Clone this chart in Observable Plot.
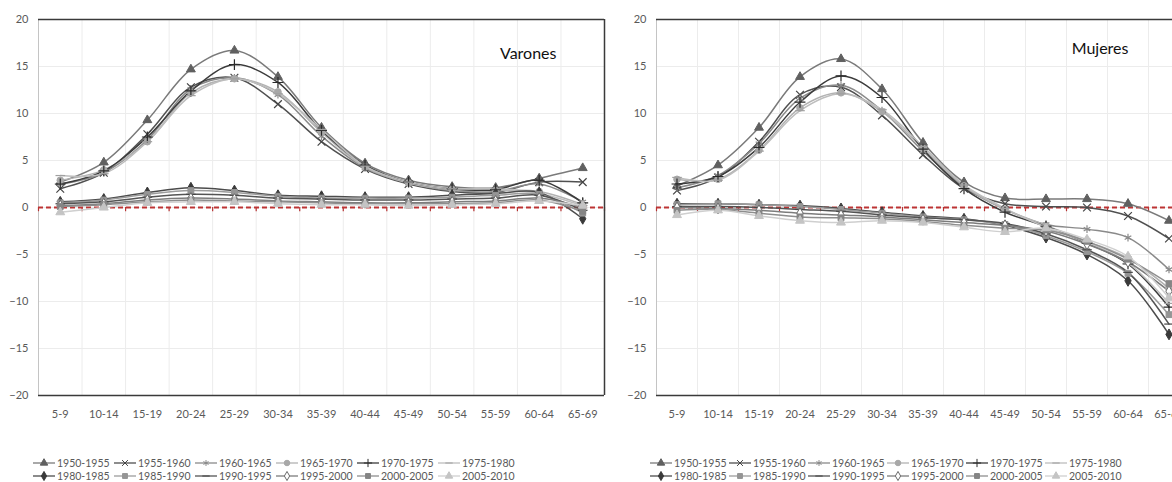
<!DOCTYPE html>
<html>
<head>
<meta charset="utf-8">
<script src="https://cdn.jsdelivr.net/npm/d3@7"></script>
<script src="https://cdn.jsdelivr.net/npm/@observablehq/plot@0.6"></script>
<style>
  html, body { margin: 0; padding: 0; background: #fff; overflow: hidden; }
  #wrap { position: relative; width: 1172px; height: 482px; overflow: hidden; font-family: Lato, "Open Sans", sans-serif; }
  .panel { position: absolute; top: 0; }
  .legend { position: absolute; font-size: 10.5px; color: #595959; }
  .item { position: absolute; white-space: nowrap; display: flex; align-items: center; }
  .item svg { margin-right: 2px; }
</style>
</head>
<body>
<div id="wrap"></div>
<script>
// ---------- DATA ----------
const ages = ["5-9","10-14","15-19","20-24","25-29","30-34","35-39","40-44","45-49","50-54","55-59","60-64","65-69"];
const periods = ["1950-1955","1955-1960","1960-1965","1965-1970","1970-1975","1975-1980",
                 "1980-1985","1985-1990","1990-1995","1995-2000","2000-2005","2005-2010"];
const yTicks = [-20, -15, -10, -5, 0, 5, 10, 15, 20];

// Varones (men)
const varones_1950_1955 = [2.7, 4.8, 9.3, 14.7, 16.7, 13.9, 8.5, 4.7, 2.9, 2.2, 2.1, 3.1, 4.2];
const varones_1955_1960 = [2.0, 3.7, 7.8, 12.8, 13.8, 11.0, 7.0, 4.1, 2.5, 1.7, 1.6, 2.7, 2.7];
const varones_1960_1965 = [2.5, 3.7, 7.2, 12.6, 13.8, 12.0, 7.6, 4.2, 2.6, 1.8, 1.7, 2.5, 0.6];
const varones_1965_1970 = [2.9, 4.0, 7.0, 12.2, 13.7, 12.3, 8.0, 4.3, 2.6, 1.9, 1.8, 1.7, 0.3];
const varones_1970_1975 = [2.5, 3.9, 7.5, 12.4, 15.2, 13.3, 8.2, 4.5, 2.7, 2.0, 1.9, 2.9, 0.5];
const varones_1975_1980 = [3.4, 3.6, 7.0, 11.9, 13.7, 12.1, 8.3, 4.4, 2.7, 2.0, 2.0, 1.5, 0.2];
const varones_1980_1985 = [0.6, 0.9, 1.6, 2.1, 1.8, 1.3, 1.2, 1.1, 1.1, 1.3, 1.5, 1.6, -1.2];
const varones_1985_1990 = [0.5, 0.8, 1.4, 1.8, 1.6, 1.2, 1.0, 1.0, 1.0, 1.1, 1.3, 1.4, -0.6];
const varones_1990_1995 = [0.4, 0.6, 1.1, 1.4, 1.3, 1.0, 0.9, 0.8, 0.8, 0.9, 1.0, 1.3, -0.3];
const varones_1995_2000 = [0.2, 0.4, 0.8, 1.0, 0.9, 0.7, 0.6, 0.5, 0.5, 0.6, 0.7, 1.0, 0.0];
const varones_2000_2005 = [0.1, 0.3, 0.6, 0.8, 0.7, 0.6, 0.5, 0.4, 0.4, 0.4, 0.5, 0.8, -0.4];
const varones_2005_2010 = [-0.5, 0.0, 0.5, 0.6, 0.6, 0.4, 0.3, 0.3, 0.2, 0.3, 0.4, 0.7, 0.2];

// Mujeres (women)
const mujeres_1950_1955 = [2.3, 4.5, 8.5, 13.9, 15.8, 12.6, 6.9, 2.7, 1.0, 0.9, 0.9, 0.4, -1.4];
const mujeres_1955_1960 = [1.8, 3.2, 7.0, 12.0, 12.8, 9.8, 5.6, 2.0, 0.4, 0.1, 0.0, -0.9, -3.3];
const mujeres_1960_1965 = [2.1, 3.4, 6.8, 11.6, 13.0, 10.3, 6.0, 2.2, -0.2, -1.8, -2.3, -3.2, -6.6];
const mujeres_1965_1970 = [3.0, 3.0, 6.1, 10.6, 12.2, 10.2, 6.3, 2.3, -0.2, -1.9, -3.6, -5.4, -8.6];
const mujeres_1970_1975 = [2.5, 3.3, 6.4, 11.2, 14.0, 11.7, 6.2, 2.0, -0.5, -2.0, -3.8, -6.0, -10.6];
const mujeres_1975_1980 = [3.2, 2.9, 6.0, 10.3, 12.1, 10.4, 6.5, 2.4, -0.1, -2.1, -3.7, -5.9, -10.2];
const mujeres_1980_1985 = [0.4, 0.4, 0.3, 0.2, -0.1, -0.5, -0.9, -1.2, -1.9, -3.2, -5.0, -7.8, -13.5];
const mujeres_1985_1990 = [0.3, 0.4, 0.3, 0.1, -0.2, -0.6, -1.0, -1.3, -1.8, -3.0, -4.7, -7.0, -11.4];
const mujeres_1990_1995 = [0.1, 0.1, 0.0, -0.2, -0.4, -0.8, -1.1, -1.3, -1.7, -2.8, -4.5, -6.9, -12.4];
const mujeres_1995_2000 = [0.0, -0.1, -0.3, -0.6, -0.8, -1.0, -1.3, -1.6, -1.9, -2.5, -3.9, -5.8, -8.9];
const mujeres_2000_2005 = [-0.3, -0.2, -0.6, -1.0, -1.1, -1.2, -1.5, -1.9, -2.2, -2.4, -3.6, -5.5, -8.1];
const mujeres_2005_2010 = [-0.8, -0.3, -0.9, -1.4, -1.6, -1.4, -1.6, -2.1, -2.6, -2.2, -3.4, -5.2, -9.6];

const varonesSeries = [varones_1950_1955, varones_1955_1960, varones_1960_1965, varones_1965_1970,
  varones_1970_1975, varones_1975_1980, varones_1980_1985, varones_1985_1990, varones_1990_1995,
  varones_1995_2000, varones_2000_2005, varones_2005_2010];
const mujeresSeries = [mujeres_1950_1955, mujeres_1955_1960, mujeres_1960_1965, mujeres_1965_1970,
  mujeres_1970_1975, mujeres_1975_1980, mujeres_1980_1985, mujeres_1985_1990, mujeres_1990_1995,
  mujeres_1995_2000, mujeres_2000_2005, mujeres_2005_2010];

// ---------- STYLES ----------
const dash = { draw(ctx, size) { const w = Math.sqrt(size) * 0.75; ctx.moveTo(-w, 0); ctx.lineTo(w, 0); } };
const seriesStyle = [
  {stroke: "#7a7a7a", mark: "#606060", symbol: "triangle", fill: true},
  {stroke: "#505050", mark: "#444444", symbol: "times", fill: false},
  {stroke: "#8a8a8a", mark: "#8a8a8a", symbol: "asterisk", fill: false},
  {stroke: "#b2b2b2", mark: "#a8a8a8", symbol: "circle", fill: true},
  {stroke: "#3c3c3c", mark: "#2a2a2a", symbol: "plus", fill: false},
  {stroke: "#bdbdbd", mark: "#a0a0a0", symbol: dash, fill: false},
  {stroke: "#4c4c4c", mark: "#3a3a3a", symbol: "diamond", fill: true},
  {stroke: "#9c9c9c", mark: "#959595", symbol: "square", fill: true},
  {stroke: "#545454", mark: "#454545", symbol: dash, fill: false},
  {stroke: "#7c7c7c", mark: "#6a6a6a", symbol: "diamond", fill: "white"},
  {stroke: "#8e8e8e", mark: "#858585", symbol: "square", fill: true},
  {stroke: "#cfcfcf", mark: "#c4c4c4", symbol: "triangle", fill: true}
];

function table(seriesArrays) {
  const rows = [];
  seriesArrays.forEach((vals, s) => vals.forEach((v, i) => rows.push({period: periods[s], s, i, age: ages[i], v})));
  return rows;
}

function panel({rows, label, width, marginLeft, marginRight, labelDx, labelDy, rightEdge}) {
  const bounds = d3.range(-0.5, ages.length, 1);
  const marks = [
    Plot.ruleY(yTicks, {stroke: "#ececec"}),
    Plot.ruleX(bounds, {stroke: "#ececec"}),
    Plot.ruleX([-0.5], {stroke: "#c4c4c4"}),
    Plot.ruleY([20], {stroke: "#3a3a3a", strokeWidth: 1.5}),
    Plot.ruleY([-20], {stroke: "#3a3a3a", strokeWidth: 1.5}),
    Plot.axisX({ticks: d3.range(ages.length), tickFormat: i => ages[i], tickSize: 0, tickPadding: 15, anchor: "bottom", fontSize: 11, label: null}),
    Plot.axisY({ticks: yTicks, tickSize: 0, tickPadding: 10, anchor: "left", fontSize: 11, label: null}),
    Plot.ruleX(bounds, {y1: 0, y2: -0.45, stroke: "#b73232", strokeWidth: 1.2})
  ];
  if (rightEdge) marks.push(Plot.ruleX([ages.length - 0.5], {stroke: "#3a3a3a", strokeWidth: 1.5}));
  marks.push(Plot.ruleY([0], {stroke: "#bd3434", strokeWidth: 2, strokeDasharray: "5,3"}));
  seriesStyle.forEach((st, s) => {
    const d = rows.filter(r => r.s === s);
    marks.push(Plot.line(d, {x: "i", y: "v", stroke: st.stroke, strokeWidth: 1.5, curve: "catmull-rom"}));
  });
  seriesStyle.forEach((st, s) => {
    const d = rows.filter(r => r.s === s);
    const fill = st.fill === true ? st.mark : (st.fill === false ? "none" : st.fill);
    const isStrokeSym = st.fill === false;
    marks.push(Plot.dot(d, {x: "i", y: "v", symbol: st.symbol, r: isStrokeSym ? 3.6 : 3.3,
      fill, stroke: st.mark, strokeWidth: isStrokeSym ? 1.2 : 1}));
  });
  marks.push(Plot.text([label], {frameAnchor: "top-right", dx: labelDx, dy: labelDy, fontSize: 16, fill: "#111", textAnchor: "end", lineAnchor: "top"}));
  return Plot.plot({
    width, height: 430,
    marginTop: 19, marginBottom: 35, marginLeft, marginRight,
    x: {type: "linear", domain: [-0.5, ages.length - 0.5], label: null},
    y: {domain: [-20, 20], label: null},
    style: {fontFamily: "Lato, 'Open Sans', sans-serif", fontSize: "11px", color: "#595959", background: "white", overflow: "visible"},
    marks
  });
}

const wrap = document.getElementById("wrap");

const left = panel({rows: table(varonesSeries), label: "Varones", width: 620, marginLeft: 38, marginRight: 16, labelDx: -48, labelDy: 28, rightEdge: true});
left.classList.add("panel"); left.style.left = "0px";
wrap.appendChild(left);

const right = panel({rows: table(mujeresSeries), label: "Mujeres", width: 579, marginLeft: 36, marginRight: 10, labelDx: -61, labelDy: 23, rightEdge: true});
right.classList.add("panel"); right.style.left = "620px";
wrap.appendChild(right);

// ---------- LEGENDS ----------
function legend(x0, step, top) {
  const div = document.createElement("div");
  div.className = "legend";
  div.style.left = x0 + "px"; div.style.top = top + "px";
  periods.forEach((p, k) => {
    const st = seriesStyle[k];
    const col = k % 6, row = Math.floor(k / 6);
    const it = document.createElement("div");
    it.className = "item";
    it.style.left = (col * step) + "px"; it.style.top = (row * 13) + "px";
    const svg = d3.create("svg").attr("width", 22).attr("height", 10);
    svg.append("line").attr("x1", 0).attr("x2", 22).attr("y1", 5).attr("y2", 5).attr("stroke", st.stroke).attr("stroke-width", 1.3);
    const type = typeof st.symbol === "string" ? {triangle: d3.symbolTriangle, times: d3.symbolTimes, asterisk: d3.symbolAsterisk,
      circle: d3.symbolCircle, plus: d3.symbolPlus, diamond: d3.symbolDiamond, square: d3.symbolSquare}[st.symbol] : st.symbol;
    const fill = st.fill === true ? st.mark : (st.fill === false ? "none" : st.fill);
    svg.append("path").attr("transform", "translate(11,5)").attr("d", d3.symbol(type, 24)())
      .attr("fill", fill).attr("stroke", st.mark).attr("stroke-width", 1);
    it.appendChild(svg.node());
    const t = document.createElement("span"); t.textContent = p; it.appendChild(t);
    div.appendChild(it);
  });
  wrap.appendChild(div);
}
legend(33, 81, 457);
legend(650, 79, 457);
</script>
</body>
</html>
